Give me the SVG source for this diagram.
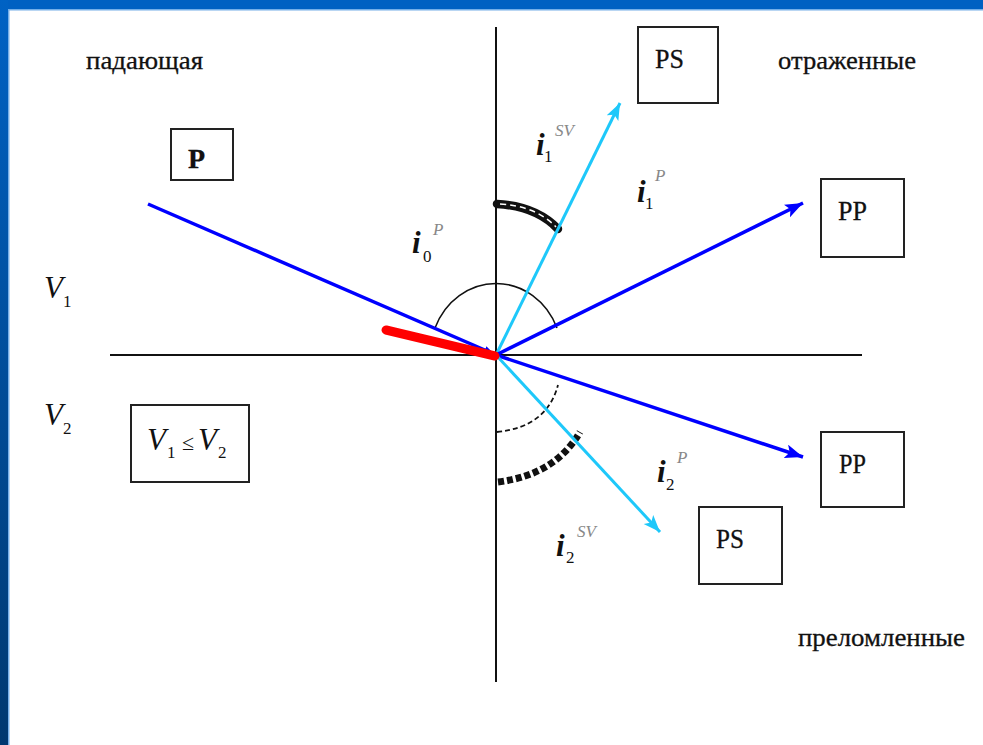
<svg xmlns="http://www.w3.org/2000/svg" width="983" height="745" viewBox="0 0 983 745">
<defs>
<linearGradient id="lb" x1="0" y1="0" x2="0" y2="1">
<stop offset="0" stop-color="#0062c4"/>
<stop offset="1" stop-color="#003870"/>
</linearGradient>
<marker id="ab" markerUnits="userSpaceOnUse" markerWidth="20" markerHeight="16" refX="18" refY="7" orient="auto">
<path d="M0,0 L18,7 L0,14 L4,7 z" fill="#0000ff"/>
</marker>
<marker id="ac" markerUnits="userSpaceOnUse" markerWidth="20" markerHeight="16" refX="17" refY="6.5" orient="auto">
<path d="M0,0 L17,6.5 L0,13 L4,6.5 z" fill="#1ec8fa"/>
</marker>
<marker id="as" markerUnits="userSpaceOnUse" markerWidth="12" markerHeight="10" refX="10" refY="4" orient="auto">
<path d="M0,0 L10,4 L0,8 z" fill="#0000ff"/>
</marker>
</defs>
<style>
.box{fill:#fff;stroke:#222;stroke-width:2}
.t{font-family:"Liberation Serif",serif;fill:#111;stroke:#111;stroke-width:0.3}
.lbl{font-family:"Liberation Serif",serif;font-size:28px;fill:#111;stroke:#111;stroke-width:0.3}
.it{font-family:"Liberation Serif",serif;font-style:italic;font-weight:bold;font-size:31px;fill:#111}
.sub{font-family:"Liberation Serif",serif;font-size:17px;fill:#111}
.sup{font-family:"Liberation Serif",serif;font-style:italic;font-size:17px;fill:#888}
.v{font-family:"Liberation Serif",serif;font-style:italic;font-size:31px;fill:#111}
.blue{stroke:#0000ff;stroke-width:3.5;fill:none}
.cyan{stroke:#1ec8fa;stroke-width:3;fill:none}
.ax{stroke:#111;stroke-width:2;fill:none}
</style>
<rect x="0" y="0" width="983" height="745" fill="#fff"/>
<rect x="0" y="0" width="983" height="9" fill="#0060c2"/>
<rect x="0" y="9" width="983" height="1.5" fill="#74aee8"/>
<rect x="0" y="0" width="8" height="745" fill="url(#lb)"/>
<rect x="8" y="9" width="1.5" height="736" fill="#74aee8"/>

<g id="axes">
<line class="ax" x1="496" y1="27" x2="496" y2="682"/>
<line class="ax" x1="110" y1="355" x2="862" y2="355"/>
</g>

<g id="angles">
<path d="M 435 328 A 66 72 0 0 1 557 328" fill="none" stroke="#111" stroke-width="1.5"/>
<path d="M 497 204 Q 536 206 558 229" fill="none" stroke="#111" stroke-width="8.5" stroke-linecap="round"/>
<path d="M 500 204 Q 536 206 556 227" fill="none" stroke="#fff" stroke-width="1.5" stroke-dasharray="6 4"/>
<path d="M 497 432 Q 547 427 558 385" fill="none" stroke="#111" stroke-width="1.8" stroke-dasharray="5 3"/>
<path d="M 498 482 Q 555 475 580 432" fill="none" stroke="#111" stroke-width="7" stroke-dasharray="6 3"/>
</g>

<g id="connectors">
<line class="blue" x1="148" y1="204" x2="494" y2="354" marker-end="url(#as)"/>
<line class="cyan" x1="496" y1="355" x2="620" y2="103" marker-end="url(#ac)"/>
<line class="blue" x1="496" y1="355" x2="803" y2="203" marker-end="url(#ab)"/>
<line class="blue" x1="496" y1="355" x2="803" y2="457" marker-end="url(#ab)"/>
<line class="cyan" x1="496" y1="355" x2="660" y2="532" marker-end="url(#ac)"/>
<line x1="386" y1="330" x2="495" y2="356" stroke="#ff0000" stroke-width="9" stroke-linecap="round"/>
</g>

<g id="label-incident">
<text class="t" x="86" y="69" font-size="26" textLength="117" lengthAdjust="spacingAndGlyphs">падающая</text>
</g>
<g id="label-reflected">
<text class="t" x="778" y="69" font-size="26" textLength="138" lengthAdjust="spacingAndGlyphs">отраженные</text>
</g>
<g id="label-refracted">
<text class="t" x="798" y="646" font-size="26" textLength="167" lengthAdjust="spacingAndGlyphs">преломленные</text>
</g>

<g id="node-P">
<rect class="box" x="171" y="129" width="62" height="51"/>
<text class="t" x="188" y="168" font-size="28" font-weight="bold">P</text>
</g>
<g id="node-PS-top">
<rect class="box" x="638" y="27" width="80" height="76"/>
<text class="lbl" x="655" y="68" textLength="29" lengthAdjust="spacingAndGlyphs">PS</text>
</g>
<g id="node-PP-top">
<rect class="box" x="821" y="179" width="83" height="78"/>
<text class="lbl" x="838" y="220" textLength="29" lengthAdjust="spacingAndGlyphs">PP</text>
</g>
<g id="node-PP-bottom">
<rect class="box" x="821" y="432" width="83" height="75"/>
<text class="lbl" x="839" y="473" textLength="27" lengthAdjust="spacingAndGlyphs">PP</text>
</g>
<g id="node-PS-bottom">
<rect class="box" x="699" y="507" width="83" height="77"/>
<text class="lbl" x="716" y="548" textLength="28" lengthAdjust="spacingAndGlyphs">PS</text>
</g>
<g id="node-V-relation">
<rect class="box" x="131" y="405" width="118" height="77"/>
<text class="v" x="147" y="450">V</text>
<text class="sub" x="167" y="458">1</text>
<text font-family="Liberation Serif, serif" font-size="22" fill="#111" x="182" y="450">≤</text>
<text class="v" x="198" y="450">V</text>
<text class="sub" x="218" y="458" fill="#666">2</text>
</g>

<g id="label-V1">
<text class="v" x="44" y="298">V</text>
<text class="sub" x="63" y="307">1</text>
</g>
<g id="label-V2">
<text class="v" x="44" y="425">V</text>
<text class="sub" x="63" y="434" fill="#666">2</text>
</g>

<g id="label-i0P">
<text class="it" x="412" y="253">i</text>
<text class="sub" x="423" y="262">0</text>
<text class="sup" x="433" y="235">P</text>
</g>
<g id="label-i1SV">
<text class="it" x="536" y="155">i</text>
<text class="sub" x="544" y="162">1</text>
<text class="sup" x="555" y="136">SV</text>
</g>
<g id="label-i1P">
<text class="it" x="637" y="202">i</text>
<text class="sub" x="645" y="209">1</text>
<text class="sup" x="655" y="181">P</text>
</g>
<g id="label-i2P">
<text class="it" x="657" y="482">i</text>
<text class="sub" x="666" y="490" fill="#666">2</text>
<text class="sup" x="677" y="463">P</text>
</g>
<g id="label-i2SV">
<text class="it" x="556" y="556">i</text>
<text class="sub" x="566" y="563" fill="#666">2</text>
<text class="sup" x="577" y="537">SV</text>
</g>
</svg>
